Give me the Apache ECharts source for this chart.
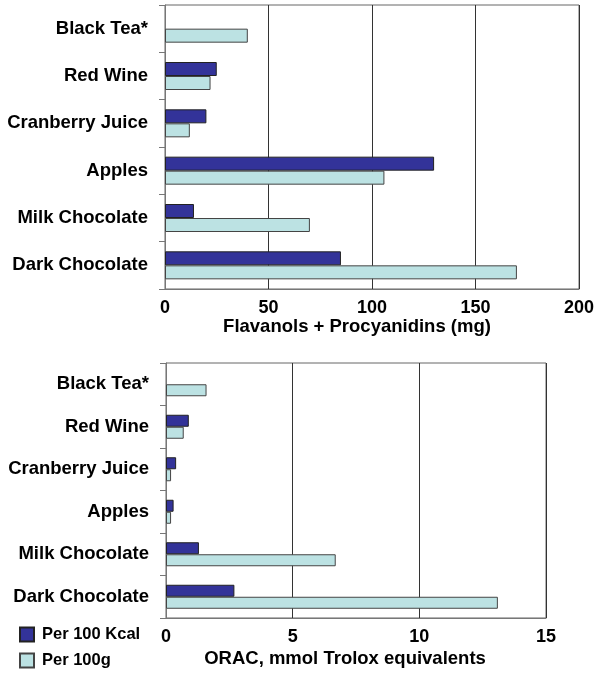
<!DOCTYPE html>
<html>
<head>
<meta charset="utf-8">
<script src="https://cdn.jsdelivr.net/npm/echarts@6/dist/echarts.min.js"></script>
<style>html,body{margin:0;padding:0;background:#fff;}#c{width:600px;height:680px;}</style>
</head>
<body>
<div id="c"></div>
<script>
const categories = ['Black Tea*', 'Red Wine', 'Cranberry Juice', 'Apples', 'Milk Chocolate', 'Dark Chocolate'];
const flavKcal = [null, 25, 20, 130, 14, 85];
const flav100g = [40, 22, 12, 106, 70, 170];
const oracKcal = [null, 0.9, 0.4, 0.3, 1.3, 2.7];
const orac100g = [1.6, 0.7, 0.2, 0.2, 6.7, 13.1];
const seriesNames = ['Per 100 Kcal', 'Per 100g'];
const topTitle = 'Flavanols + Procyanidins (mg)';
const bottomTitle = 'ORAC, mmol Trolox equivalents';

const FONT = 'Liberation Sans, Arial, sans-serif';
const DARK = '#333399';
const LIGHT = '#bce2e3';

function catAxis(gridIndex) {
  return {
    type: 'category', gridIndex, data: categories, inverse: true,
    axisLine: { show: true, lineStyle: { color: '#777', width: 1 } },
    axisTick: { show: true, inside: false, length: 6, alignWithLabel: false, lineStyle: { color: '#777' } },
    axisLabel: { color: '#000', fontFamily: FONT, fontWeight: 'bold', fontSize: 18.5, margin: 17 }
  };
}
function valAxis(gridIndex, max, interval, name, gap, pad, margin) {
  return {
    type: 'value', gridIndex, min: 0, max, interval,
    name, nameLocation: 'middle', nameGap: gap,
    nameTextStyle: { color: '#000', fontFamily: FONT, fontWeight: 'bold', fontSize: 18.5, padding: pad },
    axisLine: { show: true, lineStyle: { color: '#777', width: 1 } },
    axisTick: { show: false },
    axisLabel: { color: '#000', fontFamily: FONT, fontWeight: 'bold', fontSize: 18, margin },
    splitLine: { show: true, lineStyle: { color: '#333', width: 1 } }
  };
}
function bar(name, xi, data, color, border, bw) {
  return {
    type: 'bar', name, xAxisIndex: xi, yAxisIndex: xi, data,
    barWidth: bw, barGap: '0%',
    itemStyle: { color, borderColor: border, borderWidth: 1 },
    silent: true, animation: false
  };
}

const chart = echarts.init(document.getElementById('c'), null, { renderer: 'canvas' });
chart.setOption({
  backgroundColor: '#fff',
  animation: false,
  grid: [
    { left: 165, top: 5, width: 414, height: 284, show: true, borderColor: '#666', borderWidth: 1, backgroundColor: 'transparent' },
    { left: 166, top: 363, width: 380, height: 255, show: true, borderColor: '#666', borderWidth: 1, backgroundColor: 'transparent' }
  ],
  xAxis: [
    valAxis(0, 200, 50, topTitle, 28, [0, 30, 0, 0], 10),
    valAxis(1, 15, 5, bottomTitle, 31, [0, 22, 0, 0], 10)
  ],
  yAxis: [catAxis(0), catAxis(1)],
  legend: {
    orient: 'vertical', left: 19, top: 626, height: 54, padding: 0,
    itemWidth: 14, itemHeight: 14, itemGap: 9,
    icon: 'rect', data: seriesNames,
    textStyle: { color: '#000', fontFamily: FONT, fontWeight: 'bold', fontSize: 16.5, padding: [0, 0, 0, 3] }
  },
  series: [
    bar(seriesNames[0], 0, flavKcal, DARK, '#222', 14),
    bar(seriesNames[1], 0, flav100g, LIGHT, '#444', 14),
    bar(seriesNames[0], 1, oracKcal, DARK, '#222', 12),
    bar(seriesNames[1], 1, orac100g, LIGHT, '#444', 12)
  ]
});
</script>
</body>
</html>
